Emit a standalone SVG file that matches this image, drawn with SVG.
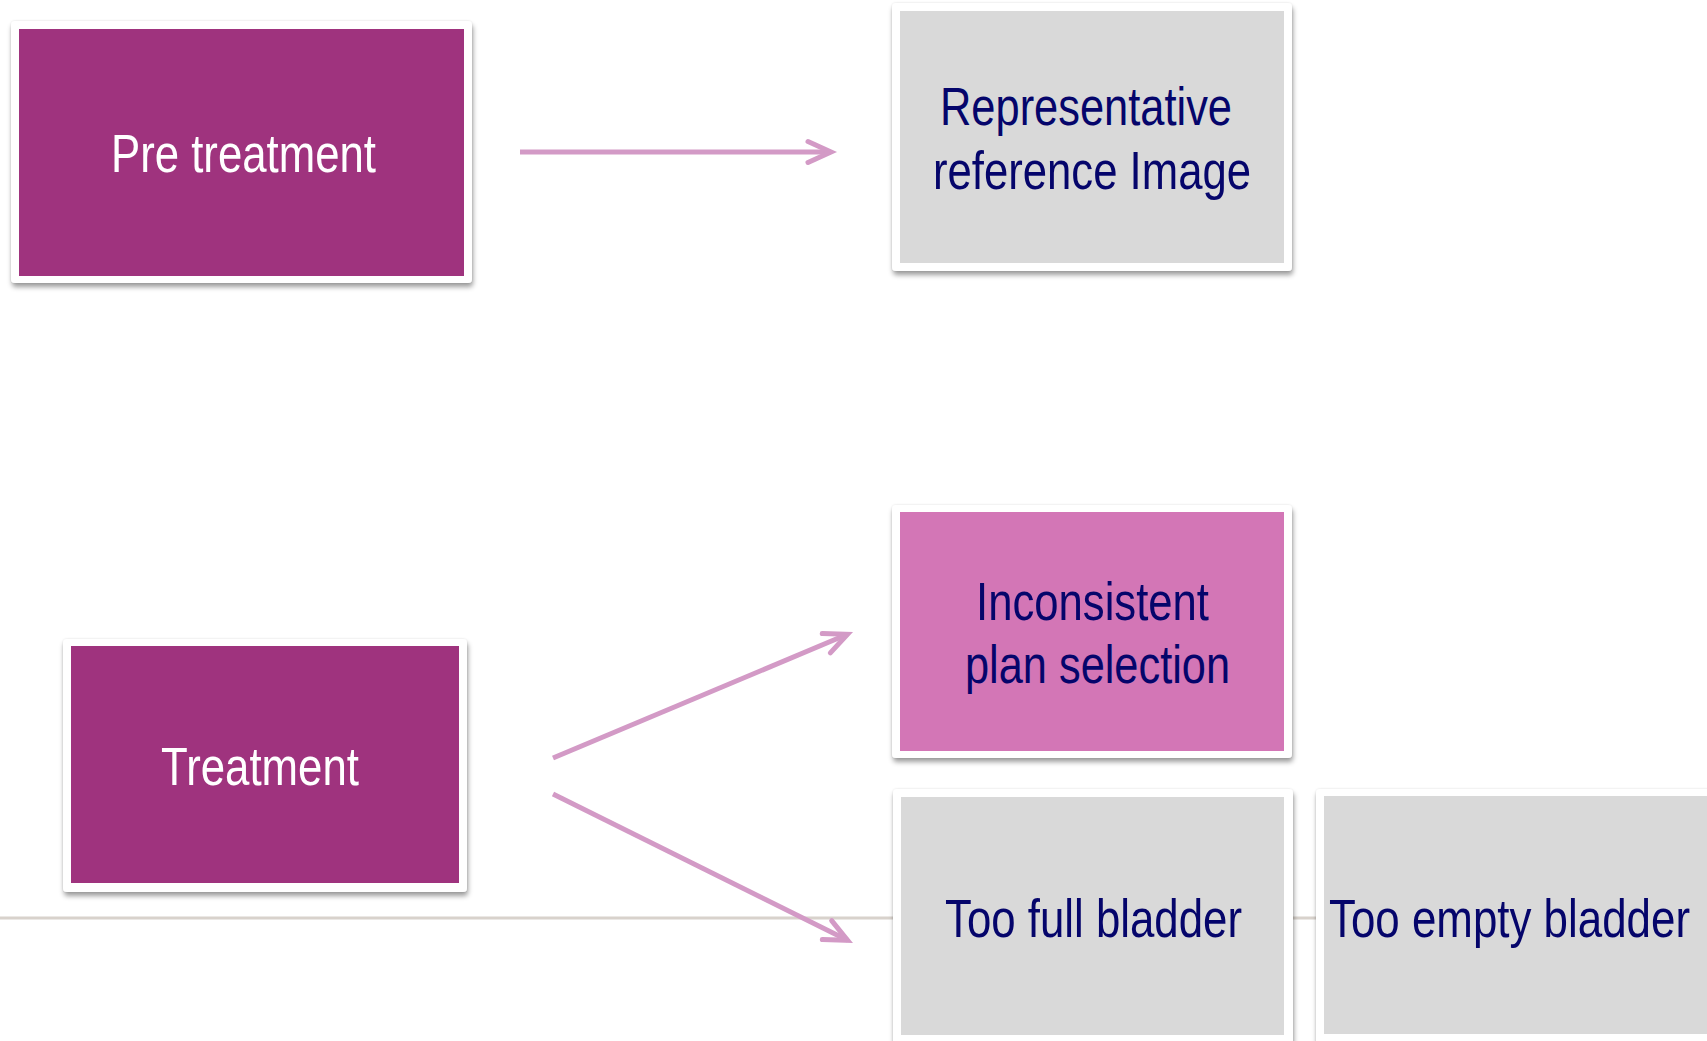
<svg xmlns="http://www.w3.org/2000/svg" width="1707" height="1041" viewBox="0 0 1707 1041">
  <style>
    .frame { fill: #ffffff; filter: url(#lift); }
    .dark { fill: #9f337e; }
    .pink { fill: #d376b6; }
    .grey { fill: #d9d9d9; }
    .lbl { font-family: "Liberation Sans", Arial, sans-serif; font-size: 53px; }
    .light { fill: #ffffff; }
    .navy { fill: #05056b; }
    .conn { fill: none; stroke: #d39ac6; stroke-width: 5; stroke-linecap: butt; }
    .rule { fill: none; stroke: #d8d2cc; stroke-width: 3; }
  </style>
  <defs>
    <filter id="lift" x="-5%" y="-5%" width="115%" height="120%">
      <feGaussianBlur in="SourceAlpha" stdDeviation="2.5" result="b"/>
      <feOffset in="b" dx="1" dy="4" result="o"/>
      <feFlood flood-color="#000000" flood-opacity="0.38"/>
      <feComposite in2="o" operator="in" result="s"/>
      <feGaussianBlur in="SourceAlpha" stdDeviation="0.8" result="e"/>
      <feFlood flood-color="#000000" flood-opacity="0.12"/>
      <feComposite in2="e" operator="in" result="edge"/>
      <feMerge>
        <feMergeNode in="s"/>
        <feMergeNode in="edge"/>
        <feMergeNode in="SourceGraphic"/>
      </feMerge>
    </filter>
    <marker id="chev" markerUnits="userSpaceOnUse" markerWidth="60" markerHeight="60" viewBox="-30 -30 60 60" refX="0" refY="0" orient="auto" overflow="visible">
      <path d="M-23,-10.5 L0,0 L-23,10.5" fill="none" stroke="#d39ac6" stroke-width="5" stroke-linecap="round" stroke-linejoin="miter" stroke-miterlimit="10"/>
    </marker>
  </defs>

  <rect width="1707" height="1041" fill="#ffffff"/>

  <!-- baseline rule behind the lower row -->
  <line class="rule" x1="0" y1="918" x2="1707" y2="918"/>

  <g id="node-pre-treatment">
    <rect class="frame" x="11" y="21" width="461" height="262" rx="4"/>
    <rect class="dark" x="19" y="29" width="445" height="247"/>
    <text class="lbl light" x="111" y="172" textLength="265" lengthAdjust="spacingAndGlyphs">Pre treatment</text>
  </g>

  <g id="node-reference-image">
    <rect class="frame" x="892" y="3" width="400" height="268" rx="4"/>
    <rect class="grey" x="900" y="11" width="384" height="252"/>
    <text class="lbl navy" x="940" y="125" textLength="292" lengthAdjust="spacingAndGlyphs">Representative</text>
    <text class="lbl navy" x="933" y="189" textLength="318" lengthAdjust="spacingAndGlyphs">reference Image</text>
  </g>

  <g id="node-treatment">
    <rect class="frame" x="63" y="639" width="404" height="253" rx="4"/>
    <rect class="dark" x="71" y="646" width="388" height="237"/>
    <text class="lbl light" x="161" y="785" textLength="198" lengthAdjust="spacingAndGlyphs">Treatment</text>
  </g>

  <g id="node-inconsistent-plan">
    <rect class="frame" x="892" y="505" width="400" height="253" rx="4"/>
    <rect class="pink" x="900" y="512" width="384" height="239"/>
    <text class="lbl navy" x="976" y="620" textLength="233" lengthAdjust="spacingAndGlyphs">Inconsistent</text>
    <text class="lbl navy" x="965" y="683" textLength="265" lengthAdjust="spacingAndGlyphs">plan selection</text>
  </g>

  <g id="node-too-full">
    <rect class="frame" x="893" y="789" width="400" height="256" rx="4"/>
    <rect class="grey" x="901" y="797" width="383" height="238"/>
    <text class="lbl navy" x="945" y="937" textLength="297" lengthAdjust="spacingAndGlyphs">Too full bladder</text>
  </g>

  <g id="node-too-empty">
    <rect class="frame" x="1316" y="789" width="400" height="256" rx="4"/>
    <rect class="grey" x="1324" y="796" width="392" height="238"/>
    <text class="lbl navy" x="1329" y="937" textLength="361" lengthAdjust="spacingAndGlyphs">Too empty bladder</text>
  </g>

  <g id="connectors">
    <line class="conn" x1="520" y1="152" x2="831" y2="152" marker-end="url(#chev)"/>
    <line class="conn" x1="553" y1="758" x2="847.5" y2="634.3" marker-end="url(#chev)"/>
    <line class="conn" x1="553" y1="794" x2="847.6" y2="940.3" marker-end="url(#chev)"/>
  </g>
</svg>
